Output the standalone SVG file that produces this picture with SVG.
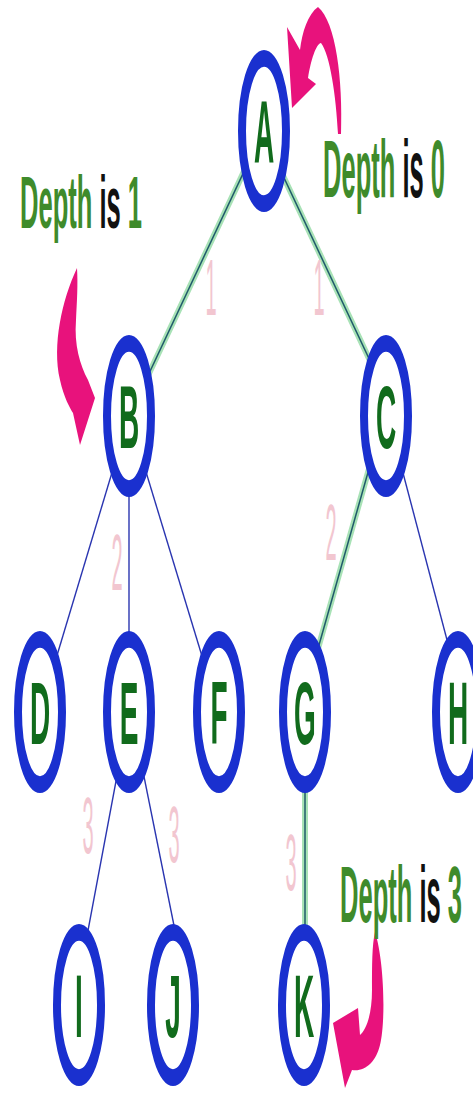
<svg xmlns="http://www.w3.org/2000/svg" width="473" height="1098" viewBox="0 0 473 1098">
<style>
.node ellipse{fill:#ffffff;stroke:#1a30cf;stroke-width:8}
.node text{font-family:"Liberation Sans",Arial,sans-serif;font-weight:bold;font-size:28px;fill:#116b1c;text-anchor:middle}
.hl{stroke:#a8e2b6;stroke-width:6;fill:none;stroke-linecap:round}
.hlc{stroke:#1f5a6a;stroke-width:1.5;fill:none}
.e{stroke:#2a35b0;stroke-width:1.4;fill:none}
.lbl{font-family:"Liberation Sans",Arial,sans-serif;font-size:20px;fill:#f2c6d0;text-anchor:middle}
.dep{font-family:"Liberation Sans",Arial,sans-serif;font-weight:bold;font-size:26px}
.g{fill:#3f8b2b}
.k{fill:#111111}
.arrow{fill:#e8127c}
</style>
<rect width="473" height="1098" fill="#ffffff"/>
<g id="connectors">
<line class="hl" x1="263" y1="131" x2="129" y2="416"/>
<line class="hlc" x1="263" y1="131" x2="129" y2="416"/>
<line class="hl" x1="262" y1="131" x2="396" y2="416"/>
<line class="hlc" x1="262" y1="131" x2="396" y2="416"/>
<line class="hl" x1="384" y1="416" x2="300" y2="712"/>
<line class="hlc" x1="384" y1="416" x2="300" y2="712"/>
<line class="hl" x1="305" y1="712" x2="305" y2="1005"/>
<line class="hlc" x1="305" y1="712" x2="305" y2="1005"/>
<line class="e" x1="129" y1="416" x2="40" y2="712"/>
<line class="e" x1="129" y1="416" x2="129" y2="712"/>
<line class="e" x1="129" y1="416" x2="219" y2="712"/>
<line class="e" x1="388" y1="416" x2="466" y2="712"/>
<line class="e" x1="129" y1="712" x2="74" y2="1005"/>
<line class="e" x1="131" y1="712" x2="190" y2="1005"/>
</g>
<g id="edge-labels">
<text class="lbl" transform="translate(211,315) scale(1,4)">1</text>
<text class="lbl" transform="translate(319,315) scale(1,4)">1</text>
<text class="lbl" transform="translate(117,590) scale(1,4)">2</text>
<text class="lbl" transform="translate(331,560) scale(1,4)">2</text>
<text class="lbl" transform="translate(88,853) scale(1,4)">3</text>
<text class="lbl" transform="translate(174,862) scale(1,4)">3</text>
<text class="lbl" transform="translate(291,890) scale(1,4)">3</text>
</g>
<g id="node-A" class="node"><ellipse rx="22" ry="34.6" transform="translate(264,131) scale(1,2.1)"/><text transform="translate(264,163) scale(1,3.2)">A</text></g>
<g id="node-B" class="node"><ellipse rx="22" ry="34.6" transform="translate(129,416) scale(1,2.1)"/><text transform="translate(129,448) scale(1,3.2)">B</text></g>
<g id="node-C" class="node"><ellipse rx="22" ry="34.6" transform="translate(386,416) scale(1,2.1)"/><text transform="translate(386,448) scale(1,3.2)">C</text></g>
<g id="node-D" class="node"><ellipse rx="22" ry="34.6" transform="translate(40,712) scale(1,2.1)"/><text transform="translate(40,744) scale(1,3.2)">D</text></g>
<g id="node-E" class="node"><ellipse rx="22" ry="34.6" transform="translate(129,712) scale(1,2.1)"/><text transform="translate(129,744) scale(1,3.2)">E</text></g>
<g id="node-F" class="node"><ellipse rx="22" ry="34.6" transform="translate(219,712) scale(1,2.1)"/><text transform="translate(219,744) scale(1,3.2)">F</text></g>
<g id="node-G" class="node"><ellipse rx="22" ry="34.6" transform="translate(305,712) scale(1,2.1)"/><text transform="translate(305,744) scale(1,3.2)">G</text></g>
<g id="node-H" class="node"><ellipse rx="22" ry="34.6" transform="translate(458,712) scale(1,2.1)"/><text transform="translate(458,744) scale(1,3.2)">H</text></g>
<g id="node-I" class="node"><ellipse rx="22" ry="34.6" transform="translate(79,1005) scale(1,2.1)"/><text transform="translate(79,1037) scale(1,3.2)">I</text></g>
<g id="node-J" class="node"><ellipse rx="22" ry="34.6" transform="translate(173,1005) scale(1,2.1)"/><text transform="translate(173,1037) scale(1,3.2)">J</text></g>
<g id="node-K" class="node"><ellipse rx="22" ry="34.6" transform="translate(304,1005) scale(1,2.1)"/><text transform="translate(304,1037) scale(1,3.2)">K</text></g>
<g id="depth-0">
<path class="arrow" d="M341,134 C343,80 336,22 318,7 C308,14 302,32 300,50 L287,27 L292,108 L316,84 L308,78 C311,60 316,44 321,43 C330,55 336,95 338,134 Z"/>
<text class="dep" transform="translate(323,197) scale(1,3.15)" textLength="122" lengthAdjust="spacingAndGlyphs"><tspan class="g">Depth </tspan><tspan class="k">is </tspan><tspan class="g">0</tspan></text>
</g>
<g id="depth-1">
<path class="arrow" d="M77,268 C62,300 52,345 60,380 C64,398 70,408 73,413 L80,445 L95,398 L88,380 C80,365 74,345 76,320 C77,300 78,285 77,268 Z"/>
<text class="dep" transform="translate(20,228) scale(1,2.85)" textLength="122" lengthAdjust="spacingAndGlyphs"><tspan class="g">Depth </tspan><tspan class="k">is </tspan><tspan class="g">1</tspan></text>
</g>
<g id="depth-3">
<path class="arrow" d="M375,932 C384,960 386,1020 380,1045 C376,1062 365,1072 352,1070 L345,1088 L333,1023 L358,1008 L360,1035 C366,1030 372,1015 372,990 C372,965 372,945 375,932 Z"/>
<text class="dep" transform="translate(340,922) scale(1,3.05)" textLength="122" lengthAdjust="spacingAndGlyphs"><tspan class="g">Depth </tspan><tspan class="k">is </tspan><tspan class="g">3</tspan></text>
</g>
</svg>
